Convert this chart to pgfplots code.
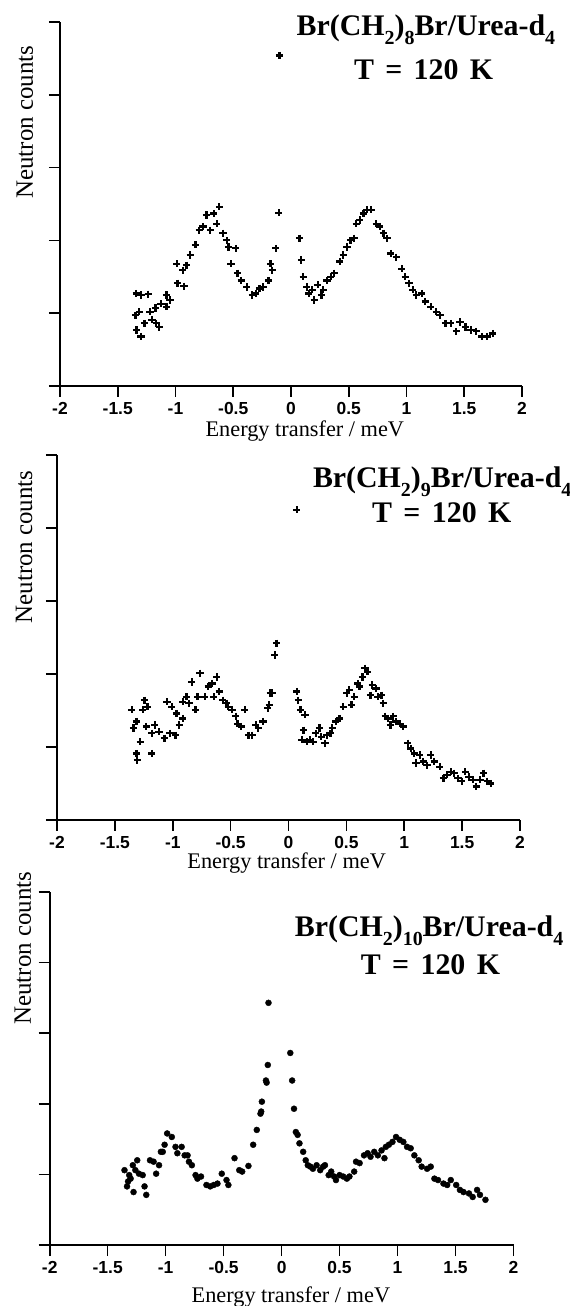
\documentclass[border=0pt]{standalone}
\usepackage{fontspec}
\setmainfont{Liberation Serif}
\newfontfamily\tickfont{Liberation Sans}
\usepackage{pgfplots}
\pgfplotsset{compat=1.18}
\tikzset{ttl/.style={font=\bfseries\fontsize{30}{30}\selectfont, anchor=base, inner sep=0pt}}
\newcommand{\tsp}{\hspace{0.38em}}
\newcommand{\sub}[1]{\raisebox{-0.3em}{\fontsize{20}{20}\selectfont #1}}
\pgfplotsset{
  panel/.style={
    scale only axis,
    anchor=south west,
    xmin=-2, xmax=2, ymin=0, ymax=5,
    axis lines=left,
    axis line style={-, line width=1.7bp},
    every tick/.style={black, line width=1.6bp},
    major tick length=11bp,
    tick align=outside,
    xtick={-2,-1.5,-1,-0.5,0,0.5,1,1.5,2},
    xticklabels={-2,-1.5,-1,-0.5,0,0.5,1,1.5,2},
    ytick={0,1,2,3,4,5},
    yticklabels={},
    typeset ticklabels with strut,
    x tick label style={font=\tickfont\bfseries\fontsize{17.5}{17.5}\selectfont, inner sep=1bp, yshift=-4bp},
    clip=false,
    ylabel={Neutron counts},
    xlabel={Energy transfer / meV},
  },
  plusmk/.style={only marks, mark=+, mark size=3.6bp, line width=2.2bp, black},
  dotmk/.style={only marks, mark=*, mark size=3bp, black},
}
\begin{document}
\begin{tikzpicture}
\path[use as bounding box] (0,0) rectangle (570bp,1306bp);

% Panel 1
\begin{axis}[panel, at={(60bp,920bp)}, width=462bp, height=364bp,
  ylabel style={at={(axis description cs:-0.076,0.725)}, anchor=center, font=\fontsize{25}{25}\selectfont},
  xlabel style={at={(axis description cs:0.530,0)}, anchor=base, yshift=-51bp, font=\fontsize{22.4}{22.4}\selectfont}]
\addplot[plusmk] coordinates {
(-1.340,1.27) (-1.299,1.25) (-1.236,1.26) (-1.346,0.97) (-1.315,1.02) (-1.220,1.02) (-1.173,1.07) (-1.125,1.13) (-1.078,1.25) (-1.337,0.77) (-1.299,0.68) (-1.268,0.86) (-1.204,0.91) (-1.167,0.86) (-1.141,0.81) (-1.078,1.09) (-1.047,1.18) (-0.983,1.41) (-0.990,1.68) (-0.936,1.59) (-0.927,1.37) (-0.904,1.66) (-0.873,1.80) (-0.826,1.94) (-0.794,2.14) (-0.762,2.19) (-0.731,2.35) (-0.699,2.14) (-0.668,2.37) (-0.642,2.23) (-0.620,2.46) (-0.589,2.10) (-0.557,2.00) (-0.541,1.91) (-0.478,1.89) (-0.519,1.68) (-0.463,1.55) (-0.431,1.45) (-0.384,1.36) (-0.336,1.25) (-0.305,1.27) (-0.273,1.34) (-0.242,1.36) (-0.194,1.45) (-0.163,1.59) (-0.178,1.68) (-0.131,1.89) (-0.106,2.38) (-0.099,4.54)
(0.074,2.03) (0.090,1.73) (0.106,1.50) (0.137,1.36) (0.153,1.27) (0.185,1.32) (0.200,1.18) (0.232,1.39) (0.264,1.25) (0.279,1.32) (0.311,1.45) (0.343,1.50) (0.374,1.55) (0.421,1.71) (0.453,1.80) (0.485,1.91) (0.516,2.00) (0.548,2.03) (0.564,2.23) (0.595,2.28) (0.627,2.37) (0.658,2.42) (0.696,2.42) (0.737,2.23) (0.769,2.19) (0.800,2.10) (0.832,2.03) (0.863,1.82) (0.911,1.77) (0.958,1.61) (0.990,1.50) (1.021,1.41) (1.053,1.32) (1.084,1.25) (1.132,1.27) (1.163,1.16) (1.211,1.09) (1.258,1.02) (1.290,0.97) (1.337,0.86) (1.384,0.86) (1.432,0.75) (1.463,0.88) (1.511,0.81) (1.558,0.77) (1.605,0.75) (1.653,0.68) (1.700,0.68) (1.747,0.72)
};
\node[ttl] at (axis description cs:0.792,0.964) {Br(CH\sub{2})\sub{8}Br/Urea-d\sub{4}};
\node[ttl] at (axis description cs:0.787,0.841) {T\tsp=\tsp120\tsp K};
\end{axis}

% Panel 2
\begin{axis}[panel, at={(57bp,486bp)}, width=463bp, height=365bp,
  ylabel style={at={(axis description cs:-0.071,0.748)}, anchor=center, font=\fontsize{25}{25}\selectfont},
  xlabel style={at={(axis description cs:0.496,0)}, anchor=base, yshift=-49bp, font=\fontsize{22.4}{22.4}\selectfont}]
\addplot[plusmk] coordinates {
(0.072,4.25) (-1.354,1.51) (-1.339,1.26) (-1.313,0.91) (-1.307,0.82) (-1.313,1.35) (-1.282,1.07) (-1.260,1.51) (-1.244,1.64) (-1.219,1.55) (-1.228,1.28) (-1.181,0.91) (-1.181,1.19) (-1.156,1.30) (-1.118,1.21) (-1.071,1.12) (-1.049,1.62) (-1.024,1.19) (-1.008,1.55) (-0.976,1.16) (-0.967,1.46) (-0.945,1.30) (-0.913,1.39) (-0.913,1.62) (-0.882,1.69) (-0.860,1.60) (-0.835,1.89) (-0.803,1.51) (-0.787,1.69) (-0.765,2.01) (-0.724,1.69) (-0.693,1.83) (-0.661,1.87) (-0.646,1.69) (-0.620,1.96) (-0.598,1.76) (-0.567,1.64) (-0.535,1.60) (-0.520,1.55) (-0.488,1.51) (-0.457,1.42) (-0.441,1.32) (-0.409,1.28) (-0.378,1.51) (-0.346,1.16) (-0.315,1.16) (-0.283,1.30) (-0.261,1.26) (-0.220,1.35) (-0.180,1.53) (-0.167,1.58) (-0.157,1.74) (-0.142,1.74) (-0.120,2.26) (-0.104,2.42)
(0.072,1.76) (0.085,1.64) (0.104,1.51) (0.142,1.44) (0.129,1.23) (0.117,1.10) (0.157,1.07) (0.189,1.10) (0.211,1.07) (0.236,1.19) (0.268,1.26) (0.283,1.14) (0.315,1.05) (0.331,1.16) (0.362,1.19) (0.378,1.26) (0.409,1.35) (0.441,1.39) (0.472,1.55) (0.504,1.74) (0.526,1.78) (0.545,1.58) (0.567,1.69) (0.598,1.87) (0.614,1.83) (0.639,1.96) (0.661,2.08) (0.683,2.03) (0.709,1.71) (0.724,1.85) (0.756,1.80) (0.772,1.69) (0.803,1.71) (0.819,1.60) (0.835,1.42) (0.860,1.39) (0.882,1.30) (0.904,1.42) (0.929,1.35) (0.961,1.32) (0.992,1.28) (1.030,1.05) (1.055,0.98) (1.087,0.91) (1.102,0.78) (1.134,0.89) (1.165,0.80) (1.197,0.75) (1.228,0.89) (1.260,0.80) (1.307,0.73) (1.339,0.57) (1.370,0.62) (1.402,0.66) (1.433,0.64) (1.465,0.57) (1.496,0.53) (1.528,0.66) (1.559,0.59) (1.591,0.55) (1.622,0.46) (1.654,0.55) (1.685,0.64) (1.717,0.53) (1.748,0.50)
};
\node[ttl] at (axis description cs:0.832,0.910) {Br(CH\sub{2})\sub{9}Br/Urea-d\sub{4}};
\node[ttl] at (axis description cs:0.831,0.816) {T\tsp=\tsp120\tsp K};
\end{axis}

% Panel 3
\begin{axis}[panel, at={(49.7bp,61bp)}, width=463.8bp, height=353bp,
  ylabel style={at={(axis description cs:-0.058,0.841)}, anchor=center, font=\fontsize{25}{25}\selectfont},
  xlabel style={at={(axis description cs:0.520,0)}, anchor=base, yshift=-57bp, font=\fontsize{22.4}{22.4}\selectfont}]
\addplot[dotmk] coordinates {
(-0.113,3.43) (-0.119,2.55) (-0.135,2.33) (-0.129,2.30) (-0.170,2.03) (-0.176,1.89) (-0.182,1.86) (-0.214,1.63) (-0.245,1.42) (-0.286,1.12) (-0.340,1.04) (-0.365,1.06) (-0.406,1.23) (-0.459,0.85) (-0.475,0.92) (-0.516,1.01) (-0.553,0.87) (-0.585,0.85) (-0.616,0.83) (-0.648,0.85) (-0.695,0.97) (-0.726,0.94) (-0.742,0.99) (-0.774,1.13) (-0.799,1.18) (-0.811,1.27) (-0.836,1.27) (-0.862,1.39) (-0.899,1.30) (-0.915,1.39) (-0.947,1.53) (-0.987,1.58) (-1.009,1.42) (-1.025,1.32) (-1.057,1.13) (-1.041,1.32) (-1.082,1.01) (-1.104,1.18) (-1.135,1.20) (-1.167,0.71) (-1.182,0.83) (-1.198,0.99) (-1.230,1.01) (-1.245,1.20) (-1.261,1.06) (-1.277,0.75) (-1.302,0.94) (-1.314,0.99) (-1.333,0.83) (-1.355,1.06) (-1.324,0.90) (-1.283,1.13)
(0.075,2.72) (0.091,2.33) (0.107,1.93) (0.123,1.60) (0.138,1.56) (0.154,1.44) (0.186,1.32) (0.208,1.20) (0.226,1.13) (0.248,1.11) (0.270,1.08) (0.302,1.13) (0.333,1.06) (0.358,1.11) (0.374,1.13) (0.406,0.99) (0.428,1.04) (0.453,0.97) (0.469,0.92) (0.500,0.99) (0.531,0.97) (0.563,0.94) (0.585,0.97) (0.626,1.04) (0.642,1.18) (0.673,1.16) (0.711,1.27) (0.742,1.30) (0.767,1.25) (0.799,1.32) (0.830,1.27) (0.862,1.34) (0.887,1.23) (0.899,1.39) (0.925,1.42) (0.956,1.46) (0.987,1.53) (1.019,1.49) (1.050,1.46) (1.082,1.39) (1.113,1.37) (1.145,1.27) (1.182,1.20) (1.208,1.11) (1.255,1.08) (1.286,1.11) (1.318,0.94) (1.349,0.92) (1.396,0.87) (1.428,0.85) (1.459,0.92) (1.506,0.85) (1.538,0.78) (1.569,0.75) (1.616,0.73) (1.648,0.68) (1.686,0.78) (1.711,0.71) (1.758,0.64)
};
\node[ttl] at (axis description cs:0.818,0.873) {Br(CH\sub{2})\sub{10}Br/Urea-d\sub{4}};
\node[ttl] at (axis description cs:0.821,0.765) {T\tsp=\tsp120\tsp K};
\end{axis}
\end{tikzpicture}
\end{document}
